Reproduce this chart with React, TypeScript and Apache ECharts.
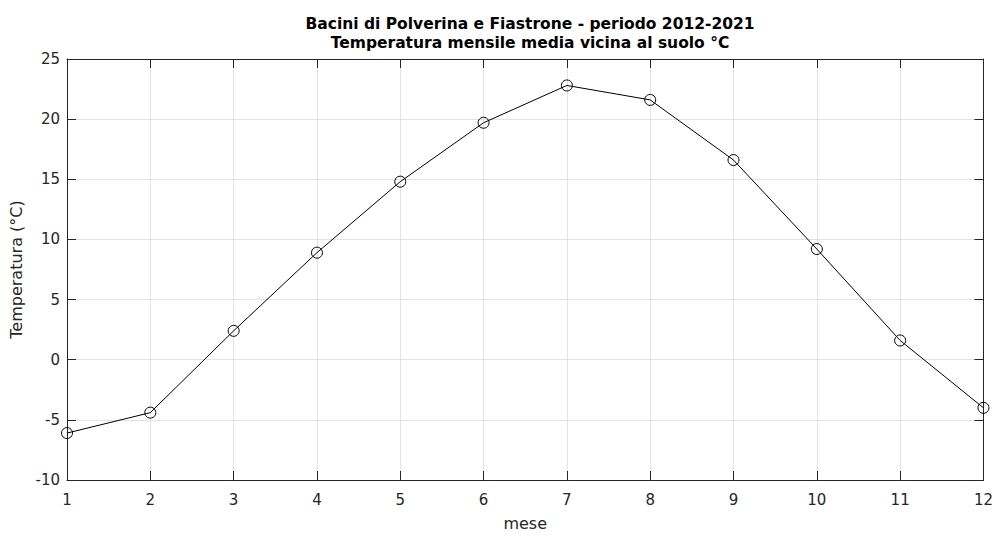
import React, { useEffect, useRef } from "react";
import * as echarts from "echarts";

// Monthly mean near-ground temperature (°C), 2012-2021
const months: number[] = [1, 2, 3, 4, 5, 6, 7, 8, 9, 10, 11, 12];
const temperature: number[] = [-6.1, -4.4, 2.4, 8.9, 14.8, 19.7, 22.8, 21.6, 16.6, 9.2, 1.6, -4.0];

const titleLines: string[] = [
  "Bacini di Polverina e Fiastrone - periodo 2012-2021",
  "Temperatura mensile media vicina al suolo °C",
];
const xLabel = "mese";
const yLabel = "Temperatura (°C)";

const FONT = "'DejaVu Sans', 'Liberation Sans', Arial, sans-serif";
const AXIS_COLOR = "#262626";
const GRID_COLOR = "#e3e3e3";

export default function App() {
  const ref = useRef<HTMLDivElement>(null);

  useEffect(() => {
    document.body.style.margin = "0";
    document.body.style.overflow = "hidden";
    document.documentElement.style.overflow = "hidden";
    if (!ref.current) return;
    const chart = echarts.init(ref.current, undefined, { renderer: "svg" });

    const baseX = {
      type: "value" as const,
      min: 1,
      max: 12,
      interval: 1,
      axisLine: { show: true, onZero: false, lineStyle: { color: AXIS_COLOR, width: 1 } },
      axisTick: { show: true, inside: true, length: 9, lineStyle: { color: AXIS_COLOR } },
    };
    const baseY = {
      type: "value" as const,
      min: -10,
      max: 25,
      interval: 5,
      axisLine: { show: true, onZero: false, lineStyle: { color: AXIS_COLOR, width: 1 } },
      axisTick: { show: true, inside: true, length: 9, lineStyle: { color: AXIS_COLOR } },
    };

    chart.setOption({
      animation: false,
      backgroundColor: "#ffffff",
      title: {
        text: titleLines.join("\n"),
        left: 525,
        textAlign: "center",
        top: 9,
        textStyle: {
          fontFamily: FONT,
          fontSize: 15.5,
          fontWeight: "bold",
          color: "#000000",
          lineHeight: 19.5,
        },
      },
      grid: { left: 67, right: 9, top: 59, bottom: 52, containLabel: false },
      xAxis: [
        {
          ...baseX,
          position: "bottom",
          name: xLabel,
          nameLocation: "middle",
          nameGap: 35,
          nameTextStyle: { fontFamily: FONT, fontSize: 16, color: AXIS_COLOR },
          axisLabel: { fontFamily: FONT, fontSize: 15, color: AXIS_COLOR, margin: 12 },
          splitLine: { show: true, lineStyle: { color: GRID_COLOR, width: 1 } },
        },
        {
          ...baseX,
          position: "top",
          axisLabel: { show: false },
          splitLine: { show: false },
        },
      ],
      yAxis: [
        {
          ...baseY,
          position: "left",
          name: yLabel,
          nameLocation: "middle",
          nameGap: 33,
          nameTextStyle: { fontFamily: FONT, fontSize: 16, color: AXIS_COLOR },
          axisLabel: { fontFamily: FONT, fontSize: 15, color: AXIS_COLOR, margin: 7 },
          splitLine: { show: true, lineStyle: { color: GRID_COLOR, width: 1 } },
        },
        {
          ...baseY,
          position: "right",
          axisLabel: { show: false },
          splitLine: { show: false },
        },
      ],
      series: [
        {
          type: "line",
          xAxisIndex: 0,
          yAxisIndex: 0,
          data: months.map((m, i) => [m, temperature[i]]),
          symbol: "circle",
          symbolSize: 11,
          showAllSymbol: true,
          lineStyle: { color: "#000000", width: 1 },
          itemStyle: { color: "transparent", borderColor: "#000000", borderWidth: 1 },
          emphasis: { disabled: true },
          z: 5,
        },
      ],
    });

    return () => chart.dispose();
  }, []);

  return <div ref={ref} style={{ width: 996, height: 536, display: "block" }} />;
}
